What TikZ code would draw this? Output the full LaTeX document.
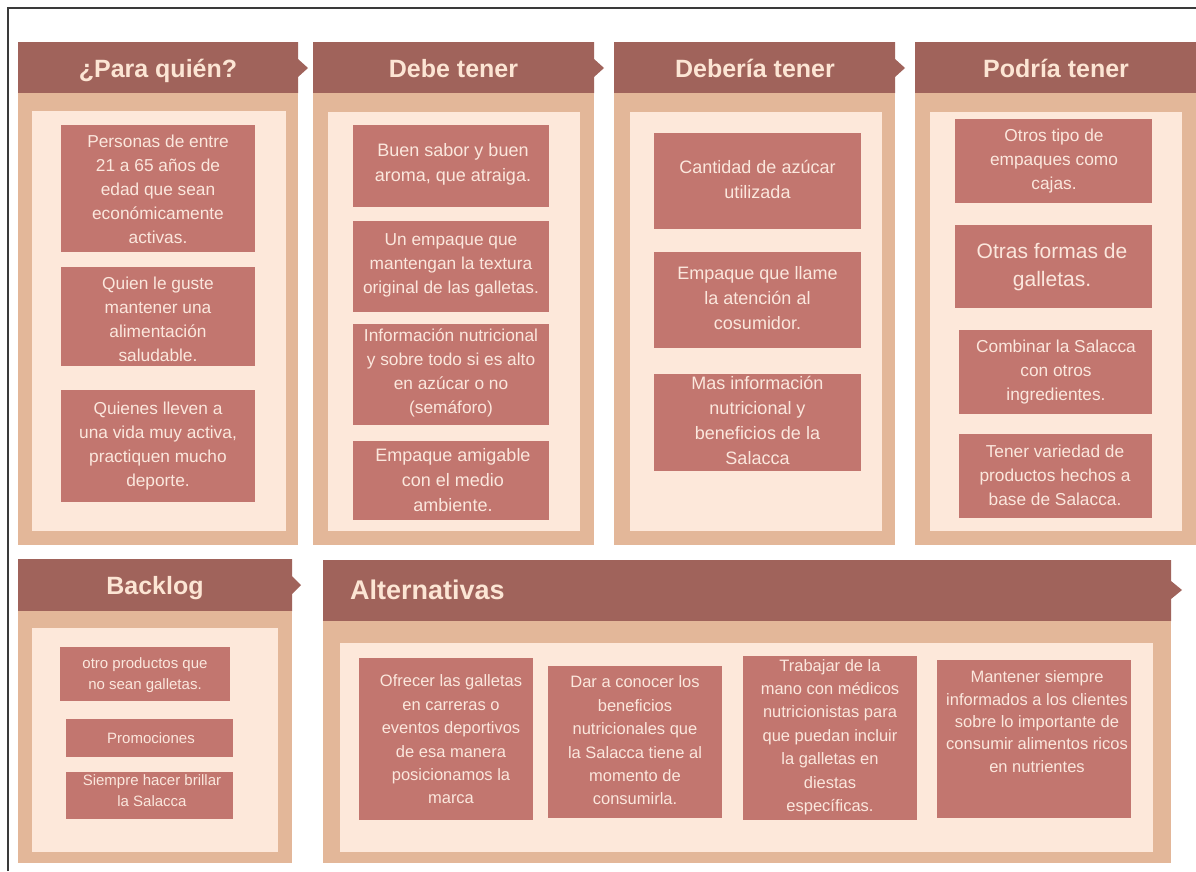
\documentclass[tikz,border=0pt]{standalone}
\usepackage{fontspec}
\setmainfont{Liberation Sans}
\usetikzlibrary{fit}
\definecolor{hdrc}{HTML}{A0635B}
\definecolor{tanc}{HTML}{E3B799}
\definecolor{lightc}{HTML}{FDE8DA}
\definecolor{cardc}{HTML}{C2766F}
\definecolor{titlec}{HTML}{FCE5D4}
\definecolor{ctextc}{HTML}{FBE7DD}
\definecolor{framec}{HTML}{3A3A3A}
\newcommand\hdrbar[6]{\fill[hdrc] (#1,#2) -- (#3,#2) -- (#3,#5-9) -- (#6,#5) -- (#3,#5+9) -- (#3,#4) -- (#1,#4) -- cycle;}
\newcommand\cardbox[5]{\node[cardbox, fit={(#2,#3) (#4,#5)}] (#1) {};}
\begin{document}
\begin{tikzpicture}[x=1pt,y=-1pt,
  panelbox/.style={fill=tanc},
  innerbox/.style={fill=lightc},
  cardbox/.style={fill=cardc, draw=none, inner sep=0pt, outer sep=0pt},
  titletext/.style={text=titlec, font=\bfseries\fontsize{25}{30}\selectfont, inner sep=0pt, anchor=base},
  ctext/.style={text=ctextc, align=center, inner sep=0pt, font=\fontsize{17.3}{24}\selectfont},
  ctextL/.style={ctext, font=\fontsize{18}{25}\selectfont},
  ctextS/.style={ctext, font=\fontsize{15}{20.5}\selectfont},
  ctextA/.style={ctext, font=\fontsize{16.5}{23.4}\selectfont}
]
\useasboundingbox (0,0) rectangle (1196,871);
\fill[white] (0,0) rectangle (1196,871);
\draw[framec, line width=2pt] (8,871) -- (8,8) -- (1196,8);

% ---------- top row panels ----------
\hdrbar{18}{42}{298}{93}{68}{308}
\fill[panelbox] (18,93) rectangle (298,545);
\fill[innerbox] (32,111) rectangle (286,531);
\node[titletext] (t1) at (158,77) {¿Para quién?};

\hdrbar{313}{42}{594}{93}{68}{604}
\fill[panelbox] (313,93) rectangle (594,545);
\fill[innerbox] (328,112) rectangle (580,531);
\node[titletext] (t2) at (453.5,77) {Debe tener};

\hdrbar{614}{42}{895}{93}{68}{905}
\fill[panelbox] (614,93) rectangle (895,545);
\fill[innerbox] (630,112) rectangle (882,531);
\node[titletext] (t3) at (755,77) {Debería tener};

\fill[hdrc] (915,42) rectangle (1196,93);
\fill[panelbox] (915,93) rectangle (1196,545);
\fill[innerbox] (930,112) rectangle (1182,531);
\node[titletext] (t4) at (1056,77) {Podría tener};

% ---------- column 1 ----------
\cardbox{c11}{61}{125}{255}{252}
\node[ctext] (c11t) at (158,189) {Personas de entre\\21 a 65 años de\\edad que sean\\económicamente\\activas.};
\cardbox{c12}{61}{267}{255}{366}
\node[ctext] (c12t) at (158,319) {Quien le guste\\mantener una\\alimentación\\saludable.};
\cardbox{c13}{61}{390}{255}{502}
\node[ctext] (c13t) at (158,446) {Quienes lleven a\\una vida muy activa,\\practiquen mucho\\deporte.};

% ---------- column 2 ----------
\cardbox{c21}{353}{125}{549}{207}
\node[ctextL] (c21t) at (453,164) {Buen sabor y buen\\aroma, que atraiga.};
\cardbox{c22}{353}{221}{549}{312}
\node[ctext] (c22t) at (451,265) {Un empaque que\\mantengan la textura\\original de las galletas.};
\cardbox{c23}{353}{324}{549}{425}
\node[ctext] (c23t) at (451,372.5) {Información nutricional\\y sobre todo si es alto\\en azúcar o no\\(semáforo)};
\cardbox{c24}{353}{441}{549}{520}
\node[ctextL] (c24t) at (453,480) {Empaque amigable\\con el medio\\ambiente.};

% ---------- column 3 ----------
\cardbox{c31}{654}{133}{861}{229}
\node[ctextL] (c31t) at (757.5,179.5) {Cantidad de azúcar\\utilizada};
\cardbox{c32}{654}{252}{861}{348}
\node[ctextL] (c32t) at (757.5,298) {Empaque que llame\\la atención al\\cosumidor.};
\cardbox{c33}{654}{374}{861}{471}
\node[ctextL] (c33t) at (757.5,420.5) {Mas información\\nutricional y\\beneficios de la\\Salacca};

% ---------- column 4 ----------
\cardbox{c41}{955}{119}{1152}{203}
\node[ctext] (c41t) at (1054,161) {Otros tipo de\\empaques como\\cajas.};
\cardbox{c42}{955}{225}{1152}{308}
\node[ctext, font=\fontsize{21}{28}\selectfont] (c42t) at (1052,267) {Otras formas de\\galletas.};
\cardbox{c43}{959}{330}{1152}{414}
\node[ctext] (c43t) at (1056,372) {Combinar la Salacca\\con otros\\ingredientes.};
\cardbox{c44}{959}{434}{1152}{518}
\node[ctext] (c44t) at (1055,475) {Tener variedad de\\productos hechos a\\base de Salacca.};

% ---------- backlog ----------
\hdrbar{18}{559}{292}{611}{585}{301}
\fill[panelbox] (18,611) rectangle (292,863);
\fill[innerbox] (32,628) rectangle (278,852);
\node[titletext] (t5) at (155,594) {Backlog};
\cardbox{b1}{60}{647}{230}{701}
\node[ctextS] (b1t) at (145,675) {otro productos que\\no sean galletas.};
\cardbox{b2}{66}{719}{233}{757}
\node[ctextS] (b2t) at (151,738) {Promociones};
\cardbox{b3}{66}{772}{233}{819}
\node[ctextS] (b3t) at (152,790.5) {Siempre hacer brillar\\la Salacca};

% ---------- alternativas ----------
\hdrbar{323}{560}{1171}{621}{590}{1182}
\fill[panelbox] (323,621) rectangle (1171,863);
\fill[innerbox] (340,643) rectangle (1153,852);
\node[titletext, anchor=base west, font=\bfseries\fontsize{27}{32}\selectfont] (t6) at (350,599) {Alternativas};
\cardbox{a1}{359}{658}{533}{820}
\node[ctextA] (a1t) at (451,739.5) {Ofrecer las galletas\\en carreras o\\eventos deportivos\\de esa manera\\posicionamos la\\marca};
\cardbox{a2}{548}{666}{722}{818}
\node[ctextA] (a2t) at (635,740.5) {Dar a conocer los\\beneficios\\nutricionales que\\la Salacca tiene al\\momento de\\consumirla.};
\cardbox{a3}{743}{656}{917}{820}
\node[ctextA] (a3t) at (830,737) {Trabajar de la\\mano con médicos\\nutricionistas para\\que puedan incluir\\la galletas en\\diestas\\específicas.};
\cardbox{a4}{937}{660}{1131}{818}
\node[ctextA, font=\fontsize{16.5}{22.3}\selectfont] (a4t) at (1037,721.5) {Mantener siempre\\informados a los clientes\\sobre lo importante de\\consumir alimentos ricos\\en nutrientes};
\end{tikzpicture}
\end{document}
